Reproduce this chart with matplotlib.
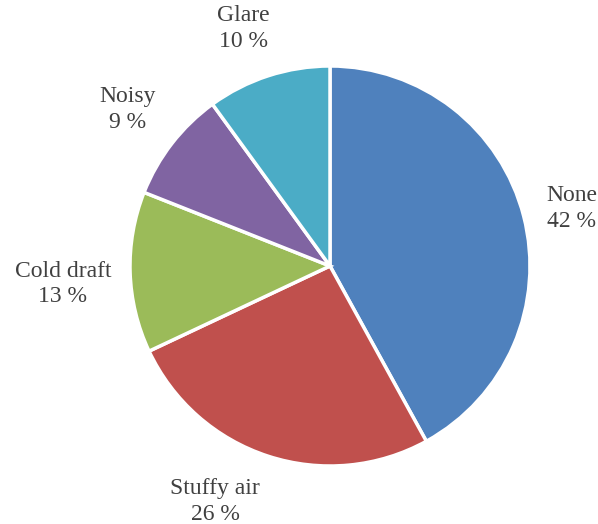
import numpy as np
import matplotlib
matplotlib.use("Agg")
import matplotlib.pyplot as plt

categories = ["None", "Stuffy air", "Cold draft", "Noisy", "Glare"]
shares = [42, 26, 13, 9, 10]
colors = ["#4F81BD", "#C0504D", "#9BBB59", "#8064A2", "#4BACC6"]

W, H = 598, 524
fig = plt.figure(figsize=(W / 100, H / 100), dpi=100)
ax = fig.add_axes([0, 0, 1, 1])

cx, cy, r = 330, 258, 200
wedges, _ = ax.pie(shares, colors=colors, startangle=90, counterclock=False,
                   center=(cx, cy), radius=r, frame=True,
                   wedgeprops=dict(edgecolor="white", linewidth=2.5))
ax.set_xlim(0, W)
ax.set_ylim(0, H)
ax.set_aspect("equal")
ax.axis("off")

font = dict(family="Liberation Serif", size=17, color="#404040")
# label boxes sit just outside the rim along each wedge's mid-angle
half_w = [26, 47, 49, 28, 31]
turn = [-1, -8, 2, 0, 2]
half_h = 27
pad = 17
for w, name, val, hw, dt in zip(wedges, categories, shares, half_w, turn):
    theta = np.deg2rad((w.theta1 + w.theta2) / 2 + dt)
    c, s = np.cos(theta), np.sin(theta)
    d = r + pad + hw * abs(c) + half_h * abs(s)
    ax.text(cx + d * c, cy + d * s, f"{name}\n{val} %", ha="center", va="center",
            linespacing=1.28, **font)

fig.savefig("out.png", dpi=100)
